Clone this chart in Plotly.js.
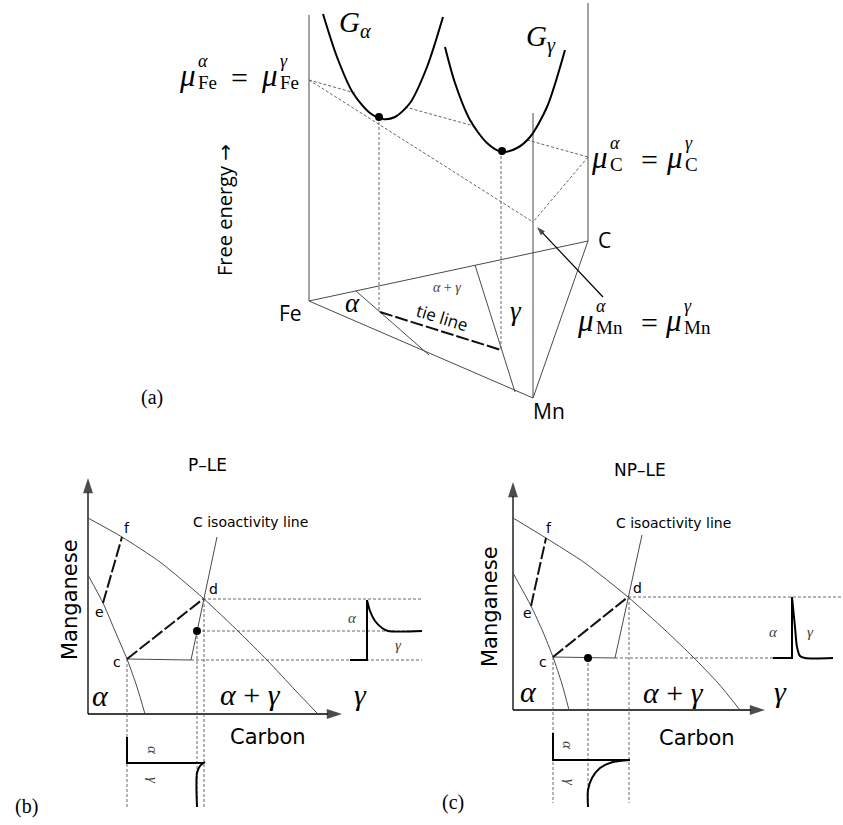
<!DOCTYPE html>
<html><head><meta charset="utf-8">
<script src="https://cdn.plot.ly/plotly-3.0.1.min.js"></script>
<style>html,body{margin:0;padding:0;background:#fff}#chart{width:843px;height:825px}</style>
</head><body><div id="chart"></div>
<script>
// ---------- (a) free-energy schematic ----------
const feAxisX = [309, 309], feAxisY = [15, 301];
const cAxisX = [588, 588], cAxisY = [3, 241];
const mnAxisX = [533, 533], mnAxisY = [113, 398];
const baseX = [309, 588, 533, 309], baseY = [301, 241, 398, 301];
const alphaBoundX = [356, 429], alphaBoundY = [291, 355];
const gammaBoundX = [475, 515], gammaBoundY = [265, 392];
const tieLineX = [380, 501], tieLineY = [312, 350];
const gAlphaX = [323, 337, 353, 370, 383, 395, 410, 427, 443];
const gAlphaY = [14, 57, 93, 113, 119, 117, 103, 67, 17];
const gGammaX = [445, 455, 470, 487, 502, 517, 530, 547, 565];
const gGammaY = [47, 83, 120, 143, 152, 148, 137, 107, 50];
const dropAlphaX = [379, 379], dropAlphaY = [117, 312];
const dropGammaX = [501, 501], dropGammaY = [151, 350];
const planeFeMnX = [309, 533], planeFeMnY = [80, 222];
const planeFeC1X = [309, 355], planeFeC1Y = [80, 93];
const planeFeC2X = [405, 474], planeFeC2Y = [107, 126];
const planeFeC3X = [527, 588], planeFeC3Y = [140, 157];
const planeCMnX = [588, 533], planeCMnY = [157, 222];
const minDotsX = [379, 502], minDotsY = [117, 151];
const muArrowX = [603, 537], muArrowY = [297, 227];

// ---------- (b) P-LE ----------
const bOuterX = [88, 122, 160, 203, 240, 267, 295, 317];
const bOuterY = [518, 537, 562, 598, 633, 660, 690, 713];
const bInnerX = [88, 103, 115, 127, 137, 145];
const bInnerY = [575, 603, 631, 659, 687, 714];
const bEFX = [103, 122], bEFY = [603, 537];
const bCDX = [127, 203], bCDY = [659, 599];
const bIsoX = [127, 191, 217], bIsoY = [659, 660, 537];
const bDotX = [197], bDotY = [631];
const bHdX = [203, 422], bHdY = [599, 599];
const bHdotX = [197, 422], bHdotY = [631, 631];
const bHcX = [191, 422], bHcY = [660, 660];
const bVcX = [127, 127], bVcY = [659, 807];
const bVdotX = [197, 197], bVdotY = [631, 807];
const bVdX = [204, 204], bVdY = [599, 807];
const bMnStepX = [350, 367, 367], bMnStepY = [660, 660, 600];
const bMnCurveX = [367, 370, 375, 382, 388, 422], bMnCurveY = [600, 611, 621, 628, 631, 631];
const bCStepX = [127, 127, 203], bCStepY = [737, 763, 763];
const bCCurveX = [205, 200, 197, 197], bCCurveY = [762, 766, 773, 807];
const bYAxisX = [88, 88], bYAxisY = [714, 478];
const bXAxisX = [88, 342], bXAxisY = [714, 714];

// ---------- (c) NP-LE ----------
const cOuterX = [513, 546, 585, 628, 665, 693, 718, 740];
const cOuterY = [518, 538, 563, 597, 630, 657, 683, 710];
const cInnerX = [513, 531, 543, 553, 562, 569];
const cInnerY = [573, 606, 632, 657, 684, 710];
const cEFX = [531, 546], cEFY = [606, 538];
const cCDX = [553, 628], cCDY = [657, 597];
const cIsoX = [553, 615, 642], cIsoY = [657, 658, 535];
const cDotX = [588], cDotY = [658];
const cHdX = [628, 843], cHdY = [597, 597];
const cHcX = [615, 773], cHcY = [658, 658];
const cVcX = [553, 553], cVcY = [657, 803];
const cVdotX = [588, 588], cVdotY = [658, 803];
const cVdX = [629, 629], cVdY = [597, 803];
const cMnStepX = [773, 792, 792], cMnStepY = [658, 658, 597];
const cMnCurveX = [792, 795, 797, 800, 805, 833], cMnCurveY = [597, 627, 647, 656, 658, 658];
const cCStepX = [553, 553, 630], cCStepY = [733, 760, 760];
const cCCurveX = [630, 613, 600, 592, 588, 588], cCCurveY = [760, 762, 768, 778, 790, 807];
const cYAxisX = [513, 513], cYAxisY = [710, 482];
const cXAxisX = [513, 765], cXAxisY = [710, 710];

// ---------- styles ----------
const thin = {color: '#4a4a4a', width: 1};
const dashed = {color: '#555', width: 0.9, dash: '3px,2px'};
const thick = {color: '#000', width: 2};
const thickSpline = {color: '#000', width: 2, shape: 'spline', smoothing: 0.8};
const longDash = {color: '#111', width: 2, dash: '13px,3px'};
const thinSpline = {color: '#4a4a4a', width: 1, shape: 'spline', smoothing: 0.6};

const traces = [];
function seg(x, y, line) { traces.push({type: 'scatter', mode: 'lines', x, y, line, hoverinfo: 'skip', showlegend: false}); }
function dots(x, y) { traces.push({type: 'scatter', mode: 'markers', x, y, marker: {size: 8, color: '#000'}, hoverinfo: 'skip', showlegend: false}); }
function arrowLine(x, y, width, headSize) {
  traces.push({type: 'scatter', mode: 'lines+markers', x, y, line: {color: '#000', width},
    marker: {symbol: 'arrow', angleref: 'previous', size: [0, headSize], color: '#000', line: {width: 0}},
    hoverinfo: 'skip', showlegend: false});
}

// (a)
seg(feAxisX, feAxisY, thin); seg(cAxisX, cAxisY, thin); seg(mnAxisX, mnAxisY, thin);
seg(baseX, baseY, thin); seg(alphaBoundX, alphaBoundY, thin); seg(gammaBoundX, gammaBoundY, thin);
seg(dropAlphaX, dropAlphaY, dashed); seg(dropGammaX, dropGammaY, dashed);
seg(planeFeMnX, planeFeMnY, dashed); seg(planeFeC1X, planeFeC1Y, dashed);
seg(planeFeC2X, planeFeC2Y, dashed); seg(planeFeC3X, planeFeC3Y, dashed);
seg(planeCMnX, planeCMnY, dashed);
seg(tieLineX, tieLineY, longDash);
seg(gAlphaX, gAlphaY, thickSpline); seg(gGammaX, gGammaY, thickSpline);
dots(minDotsX, minDotsY);
arrowLine(muArrowX, muArrowY, 1.2, 9);

// (b)
arrowLine(bYAxisX, bYAxisY, 1.3, 16); arrowLine(bXAxisX, bXAxisY, 1.3, 16);
seg(bOuterX, bOuterY, thinSpline); seg(bInnerX, bInnerY, thinSpline);
seg(bHdX, bHdY, dashed); seg(bHdotX, bHdotY, dashed); seg(bHcX, bHcY, dashed);
seg(bVcX, bVcY, dashed); seg(bVdotX, bVdotY, dashed); seg(bVdX, bVdY, dashed);
seg(bIsoX, bIsoY, thin);
seg(bEFX, bEFY, longDash); seg(bCDX, bCDY, longDash);
seg(bMnStepX, bMnStepY, thick); seg(bMnCurveX, bMnCurveY, thickSpline);
seg(bCStepX, bCStepY, thick); seg(bCCurveX, bCCurveY, thickSpline);
dots(bDotX, bDotY);

// (c)
arrowLine(cYAxisX, cYAxisY, 1.3, 16); arrowLine(cXAxisX, cXAxisY, 1.3, 16);
seg(cOuterX, cOuterY, thinSpline); seg(cInnerX, cInnerY, thinSpline);
seg(cHdX, cHdY, dashed); seg(cHcX, cHcY, dashed);
seg(cVcX, cVcY, dashed); seg(cVdotX, cVdotY, dashed); seg(cVdX, cVdY, dashed);
seg(cIsoX, cIsoY, thin);
seg(cEFX, cEFY, longDash); seg(cCDX, cCDY, longDash);
seg(cMnStepX, cMnStepY, thick); seg(cMnCurveX, cMnCurveY, thickSpline);
seg(cCStepX, cCStepY, thick); seg(cCCurveX, cCCurveY, thickSpline);
dots(cDotX, cDotY);

// ---------- text ----------
const SERIF = 'Liberation Serif, DejaVu Serif, serif';
const SANS = 'Open Sans, DejaVu Sans, sans-serif';
const SANS2 = 'DejaVu Sans, sans-serif';
const ann = [];
function txt(text, x, y, size, family, extra) {
  ann.push(Object.assign({x, y, xref: 'x', yref: 'y', text, showarrow: false,
    font: {size, family, color: '#000'}, xanchor: 'center', yanchor: 'middle'}, extra || {}));
}
// mu^sup_sub
function mu(x, y, sup, sub) {
  txt('<i>μ</i>', x, y - 6, 31, SERIF);
  txt('<i>' + sup + '</i>', x + 9, y - 20, 18, SERIF, {xanchor: 'left'});
  txt(sub, x + 9, y + 1, 19, SERIF, {xanchor: 'left'});
}
function muEq(x1, x2, xe, y, sub) {
  mu(x1, y, 'α', sub);
  txt('=', xe, y - 4, 30, SERIF);
  mu(x2, y, 'γ', sub);
}
muEq(187, 269, 239, 81, 'Fe');
muEq(599, 674, 649, 163, 'C');
muEq(585, 673, 649, 326, 'Mn');

txt('<i>G</i><sub><i>α</i></sub>', 355, 24, 29, SERIF);
txt('<i>G</i><sub><i>γ</i></sub>', 541, 38, 29, SERIF);
txt('C', 604, 240, 21, SANS);
txt('Fe', 290, 313, 21, SANS);
txt('Mn', 549, 411, 21, SANS);
txt('Free energy →', 224, 210, 20, SANS, {textangle: -90});
txt('<i>α</i>', 352, 303, 27, SERIF);
txt('<i>α</i> + <i>γ</i>', 447, 287, 14, SERIF, {font: {size: 14, family: SERIF, color: '#444'}});
txt('tie line', 442, 317, 17, SANS, {textangle: 17});
txt('<i>γ</i>', 516, 311, 27, SERIF);
txt('(a)', 152, 397, 20, SERIF);

// (b)
txt('P–LE', 207, 465, 17, SANS2);
txt('C isoactivity line', 250, 522, 14, SANS2);
txt('f', 127, 528, 14, SANS2); txt('d', 213, 589, 14, SANS2);
txt('e', 99, 612, 14, SANS2); txt('c', 117, 662, 14, SANS2);
txt('Manganese', 70, 600, 21, SANS2, {textangle: -90});
txt('Carbon', 268, 737, 21, SANS2);
txt('<i>α</i>', 100, 695, 30, SERIF);
txt('<i>α</i> + <i>γ</i>', 250, 694, 30, SERIF);
txt('<i>γ</i>', 360, 694, 30, SERIF);
txt('<i>α</i>', 352, 618, 15, SERIF, {font: {size: 15, family: SERIF, color: '#444'}});
txt('<i>γ</i>', 398, 645, 15, SERIF, {font: {size: 15, family: SERIF, color: '#444'}});
txt('<i>α</i>', 153, 750, 15, SERIF, {textangle: 90, font: {size: 15, family: SERIF, color: '#444'}});
txt('<i>γ</i>', 153, 780, 15, SERIF, {textangle: 90, font: {size: 15, family: SERIF, color: '#444'}});
txt('(b)', 26, 806, 20, SERIF);

// (c)
txt('NP–LE', 640, 470, 17, SANS2);
txt('C isoactivity line', 673, 523, 14, SANS2);
txt('f', 549, 528, 14, SANS2); txt('d', 637, 588, 14, SANS2);
txt('e', 527, 613, 14, SANS2); txt('c', 543, 662, 14, SANS2);
txt('Manganese', 490, 607, 21, SANS2, {textangle: -90});
txt('Carbon', 697, 738, 21, SANS2);
txt('<i>α</i>', 528, 691, 30, SERIF);
txt('<i>α</i> + <i>γ</i>', 673, 692, 30, SERIF);
txt('<i>γ</i>', 780, 691, 30, SERIF);
txt('<i>α</i>', 773, 632, 15, SERIF, {font: {size: 15, family: SERIF, color: '#444'}});
txt('<i>γ</i>', 810, 632, 15, SERIF, {font: {size: 15, family: SERIF, color: '#444'}});
txt('<i>α</i>', 568, 745, 15, SERIF, {textangle: 90, font: {size: 15, family: SERIF, color: '#444'}});
txt('<i>γ</i>', 570, 782, 15, SERIF, {textangle: 90, font: {size: 15, family: SERIF, color: '#444'}});
txt('(c)', 453, 802, 20, SERIF);

const layout = {
  width: 843, height: 825, margin: {l: 0, r: 0, t: 0, b: 0},
  paper_bgcolor: '#fff', plot_bgcolor: '#fff', showlegend: false,
  xaxis: {range: [0, 843], visible: false, fixedrange: true},
  yaxis: {range: [825, 0], visible: false, fixedrange: true},
  annotations: ann
};
Plotly.newPlot('chart', traces, layout, {staticPlot: true, displayModeBar: false});
</script></body></html>
